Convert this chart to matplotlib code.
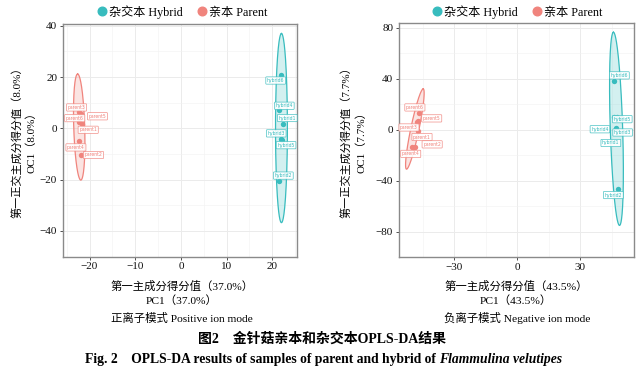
import numpy as np
import matplotlib
matplotlib.use("Agg")
import matplotlib.pyplot as plt
from matplotlib.lines import Line2D

plt.rcParams['font.family'] = ['Liberation Serif', 'Noto Sans CJK SC', 'DejaVu Sans']
plt.rcParams['axes.unicode_minus'] = True

# ---------------- data ----------------
hyb_names = ['hybrid1', 'hybrid2', 'hybrid3', 'hybrid4', 'hybrid5', 'hybrid6']
par_names = ['parent1', 'parent2', 'parent3', 'parent4', 'parent5', 'parent6']

# positive ion mode
pos_hyb_x = [22.4, 21.4, 21.9, 21.4, 22.2, 21.9]
pos_hyb_y = [1.8, -20.5, -4.0, 7.1, -4.7, 21.0]
pos_par_x = [-21.6, -21.9, -22.25, -22.25, -21.8, -22.2]
pos_par_y = [1.5, -10.4, 6.2, -5.1, 5.4, 2.3]

# negative ion mode
neg_hyb_x = [46.9, 48.1, 49.2, 46.0, 47.3, 46.2]
neg_hyb_y = [1.6, -46.6, 9.4, 9.8, 10.1, 38.3]
neg_par_x = [-47.4, -48.9, -47.9, -50.1, -47.1, -46.7]
neg_par_y = [-1.0, -13.3, 5.7, -13.8, 6.8, 12.8]

# confidence ellipses: centre x, centre y, major half-vector (dx, dy), horizontal half-width
pos_hyb_ell = [22.0, 0.1, 0.0, 36.9, 1.3]
pos_par_ell = [-22.25, 0.5, -0.35, 20.7, 1.2]
neg_hyb_ell = [47.2, 0.7, -1.45, 75.9, 2.95]
neg_par_ell = [-48.75, 0.55, 3.95, 31.55, 2.0]

pos_xticks = [-20, -10, 0, 10, 20]
pos_yticks = [-40, -20, 0, 20, 40]
neg_xticks = [-30, 0, 30]
neg_yticks = [-80, -40, 0, 40, 80]

# label offsets (pixels) for the repelled labels (layout)
pos_hyb_off = [(4, 5.7), (4.6, 5.3), (-4.8, 5.2), (5.6, 4.4), (3.7, -4.8), (-5.3, -6)]
pos_par_off = [(6, -5.3), (12.6, 0), (-2.6, 5), (-3.3, -6), (16.2, -1.8), (-4.7, 4.3)]
neg_hyb_off = [(-5, -15.3), (-5, -6), (2, -14.7), (-14, -12), (5.6, -2.3), (5, 5.6)]
neg_par_off = [(4.3, -6), (17.6, 2.3), (-7.7, -5), (-1.3, -6.6), (13.4, 2.7), (-4.3, 6)]

C_HYB = '#38BCBE'
C_PAR = '#F0847D'

W, H = 643, 371
fig = plt.figure(figsize=(W / 100, H / 100), dpi=100)


def px_box(x0, y0, x1, y1):
    return [x0 / W, 1 - y1 / H, (x1 - x0) / W, (y1 - y0) / H]


def ellipse(ax, p, color):
    cx, cy, ax_, ay_, hw = p
    t = np.linspace(0, 2 * np.pi, 300)
    xs = cx + ax_ * np.cos(t) + hw * np.sin(t)
    ys = cy + ay_ * np.cos(t)
    ax.fill(xs, ys, facecolor=color, alpha=0.22, edgecolor='none', zorder=2)
    ax.plot(xs, ys, color=color, lw=0.9, zorder=3)


def panel(ax, hx, hy, px_, py_, he, pe, hoff, poff, xlim, ylim, xt, yt):
    ax.set_xlim(*xlim)
    ax.set_ylim(*ylim)
    ax.set_xticks(xt)
    ax.set_yticks(yt)
    xt = np.array(xt, float)
    yt = np.array(yt, float)
    dx = xt[1] - xt[0]
    dy = yt[1] - yt[0]
    ax.set_xticks(np.arange(xt[0] - dx / 2, xlim[1], dx), minor=True)
    ax.set_yticks(np.arange(yt[0] - dy / 2, ylim[1], dy), minor=True)
    ax.grid(True, which='major', color='#EBEBEB', lw=0.7, zorder=0)
    ax.grid(True, which='minor', color='#F2F2F2', lw=0.4, zorder=0)
    ax.set_axisbelow(True)
    ax.tick_params(which='minor', length=0)
    ax.tick_params(which='major', length=2.2, width=0.6, color='#333333',
                   labelsize=8, pad=2, labelcolor='#111111')
    for s in ax.spines.values():
        s.set_color('#8A8A8A')
        s.set_linewidth(1.0)
    ellipse(ax, he, C_HYB)
    ellipse(ax, pe, C_PAR)
    ax.scatter(hx, hy, s=15, color=C_HYB, zorder=5, linewidths=0)
    ax.scatter(px_, py_, s=15, color=C_PAR, zorder=5, linewidths=0)
    for names, xs, ys, offs, col in ((hyb_names, hx, hy, hoff, C_HYB),
                                     (par_names, px_, py_, poff, C_PAR)):
        for n, x, y, o in zip(names, xs, ys, offs):
            ax.annotate(n, (x, y), xytext=o, textcoords='offset pixels',
                        ha='center', va='center', fontsize=3.3, color=col,
                        family='DejaVu Sans', zorder=6,
                        bbox=dict(boxstyle='round,pad=0.25,rounding_size=0.15',
                                  fc='white', ec=col, lw=0.5, alpha=0.9))


ax1 = fig.add_axes(px_box(63, 23.5, 297, 256.5))
panel(ax1, pos_hyb_x, pos_hyb_y, pos_par_x, pos_par_y, pos_hyb_ell, pos_par_ell,
      pos_hyb_off, pos_par_off, (-25.8, 25.4), (-40.3, 40.9), pos_xticks, pos_yticks)

ax2 = fig.add_axes(px_box(399, 22.7, 633.7, 257))
panel(ax2, neg_hyb_x, neg_hyb_y, neg_par_x, neg_par_y, neg_hyb_ell, neg_par_ell,
      neg_hyb_off, neg_par_off, (-56.3, 55.4), (-82.0, 84.1), neg_xticks, neg_yticks)

# legends
handles = [Line2D([], [], marker='o', ls='none', markersize=6.2, color=C_HYB),
           Line2D([], [], marker='o', ls='none', markersize=6.2, color=C_PAR)]
labels = ['杂交本 Hybrid', '亲本 Parent']
for cx in (183, 518):
    fig.legend(handles, labels, loc='center', bbox_to_anchor=(cx / W, 1 - 11.7 / H),
               ncol=2, frameon=False, fontsize=8.7, handlelength=0.6,
               handletextpad=0.25, columnspacing=1.3, borderpad=0)


def ftext(x, y, s, **kw):
    fig.text(x / W, 1 - y / H, s, ha='center', va='center', **kw)


# y labels
ftext(17, 140, '第一正交主成分得分值（8.0%）', rotation=90, fontsize=8)
ftext(31, 140, 'OC1（8.0%）', rotation=90, fontsize=8)
ftext(346, 140, '第一正交主成分得分值（7.7%）', rotation=90, fontsize=8)
ftext(361, 140, 'OC1（7.7%）', rotation=90, fontsize=8)

# x labels
ftext(182, 286, '第一主成分得分值（37.0%）', fontsize=8.2)
ftext(182, 300, 'PC1（37.0%）', fontsize=8.2)
ftext(181.5, 318, '正离子模式 Positive ion mode', fontsize=8.2)
ftext(516, 286, '第一主成分得分值（43.5%）', fontsize=8.2)
ftext(516, 300, 'PC1（43.5%）', fontsize=8.2)
ftext(517.5, 318, '负离子模式 Negative ion mode', fontsize=8.2)

# captions
ftext(322, 339, '图2　金针菇亲本和杂交本OPLS-DA结果', fontsize=10, fontweight='bold')

r = fig.canvas.get_renderer()
t1 = fig.text(0, 1 - 359 / H, 'Fig. 2    OPLS-DA results of samples of parent and hybrid of ',
              fontsize=9.8, fontweight='bold', va='center', ha='left')
t2 = fig.text(0, 1 - 359 / H, 'Flammulina velutipes', fontsize=9.8, fontweight='bold',
              style='italic', va='center', ha='left')
w1 = t1.get_window_extent(r).width
w2 = t2.get_window_extent(r).width
x0 = 323.5 - (w1 + w2) / 2
t1.set_x(x0 / W)
t2.set_x((x0 + w1) / W)

fig.savefig('out.png', dpi=100)
